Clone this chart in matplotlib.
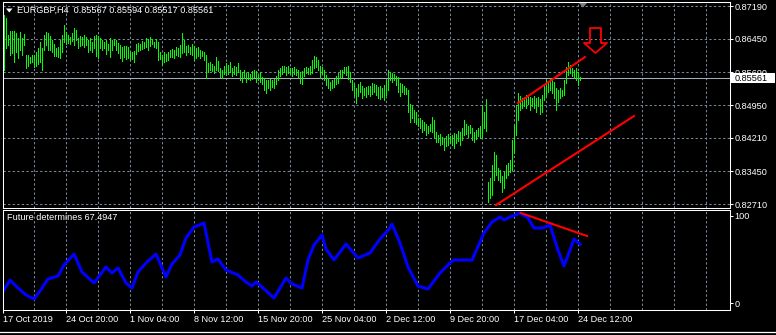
import numpy as np
import matplotlib
matplotlib.use('Agg')
import matplotlib.pyplot as plt
from matplotlib.path import Path
from matplotlib.patches import Rectangle, Polygon
from matplotlib.lines import Line2D
import matplotlib.transforms as mtransforms

plt.rcParams['font.family'] = ['Liberation Sans', 'DejaVu Sans']
FS = 6.6

# ---------------- data ----------------
highs = [
    0.8699, 0.8692, 0.8653, 0.8662, 0.8662, 0.8662, 0.8658, 0.8647, 0.8660, 0.8647,
    0.8656, 0.8608, 0.8608, 0.8604, 0.8608, 0.8608, 0.8615, 0.8624, 0.8638, 0.8624,
    0.8653, 0.8660, 0.8658, 0.8651, 0.8642, 0.8633, 0.8624, 0.8626, 0.8642, 0.8653,
    0.8676, 0.8660, 0.8653, 0.8649, 0.8658, 0.8669, 0.8665, 0.8647, 0.8651, 0.8649,
    0.8653, 0.8649, 0.8642, 0.8647, 0.8638, 0.8651, 0.8653, 0.8651, 0.8647, 0.8642,
    0.8638, 0.8642, 0.8633, 0.8647, 0.8642, 0.8644, 0.8642, 0.8635, 0.8631, 0.8626,
    0.8628, 0.8628, 0.8626, 0.8615, 0.8615, 0.8617, 0.8633, 0.8635, 0.8633, 0.8640,
    0.8638, 0.8647, 0.8644, 0.8649, 0.8644, 0.8638, 0.8644, 0.8638, 0.8615, 0.8608,
    0.8615, 0.8610, 0.8615, 0.8619, 0.8622, 0.8619, 0.8626, 0.8624, 0.8631, 0.8658,
    0.8642, 0.8628, 0.8631, 0.8626, 0.8633, 0.8628, 0.8624, 0.8626, 0.8619, 0.8617,
    0.8615, 0.8608, 0.8590, 0.8592, 0.8588, 0.8583, 0.8604, 0.8594, 0.8579, 0.8574,
    0.8583, 0.8590, 0.8585, 0.8592, 0.8579, 0.8583, 0.8581, 0.8590, 0.8574, 0.8570,
    0.8574, 0.8567, 0.8570, 0.8565, 0.8572, 0.8574, 0.8572, 0.8563, 0.8570, 0.8558,
    0.8556, 0.8551, 0.8551, 0.8554, 0.8551, 0.8554, 0.8561, 0.8574, 0.8579, 0.8583,
    0.8583, 0.8581, 0.8583, 0.8579, 0.8579, 0.8581, 0.8576, 0.8574, 0.8570, 0.8572,
    0.8579, 0.8581, 0.8579, 0.8583, 0.8597, 0.8606, 0.8604, 0.8597, 0.8583, 0.8581,
    0.8574, 0.8563, 0.8556, 0.8547, 0.8551, 0.8554, 0.8561, 0.8567, 0.8574, 0.8574,
    0.8581, 0.8581, 0.8583, 0.8570, 0.8551, 0.8542, 0.8533, 0.8542, 0.8547, 0.8538,
    0.8533, 0.8536, 0.8538, 0.8538, 0.8545, 0.8542, 0.8540, 0.8536, 0.8538, 0.8533,
    0.8540, 0.8551, 0.8574, 0.8570, 0.8567, 0.8565, 0.8561, 0.8558, 0.8545, 0.8542,
    0.8538, 0.8533, 0.8529, 0.8497, 0.8493, 0.8484, 0.8479, 0.8465, 0.8465, 0.8461,
    0.8456, 0.8452, 0.8447, 0.8452, 0.8468, 0.8461, 0.8434, 0.8427, 0.8429, 0.8422,
    0.8420, 0.8425, 0.8429, 0.8425, 0.8427, 0.8431, 0.8429, 0.8436, 0.8434, 0.8443,
    0.8461, 0.8452, 0.8447, 0.8450, 0.8443, 0.8434, 0.8438, 0.8443, 0.8447, 0.8495,
    0.8479, 0.8508, 0.8321, 0.8330, 0.8359, 0.8388, 0.8382, 0.8352, 0.8348, 0.8334,
    0.8343, 0.8359, 0.8364, 0.8370, 0.8416, 0.8450, 0.8495, 0.8522, 0.8515, 0.8511,
    0.8513, 0.8518, 0.8515, 0.8513, 0.8511, 0.8515, 0.8511, 0.8513, 0.8508, 0.8518,
    0.8542, 0.8551, 0.8547, 0.8556, 0.8551, 0.8547, 0.8533, 0.8529, 0.8533, 0.8529,
    0.8551, 0.8581, 0.8592, 0.8585, 0.8579, 0.8574, 0.8579, 0.8570, 0.8559,
]
lows = [
    0.8574, 0.8624, 0.8631, 0.8608, 0.8613, 0.8592, 0.8615, 0.8601, 0.8619, 0.8608,
    0.8631, 0.8579, 0.8583, 0.8590, 0.8592, 0.8581, 0.8583, 0.8588, 0.8592, 0.8574,
    0.8619, 0.8631, 0.8619, 0.8619, 0.8615, 0.8606, 0.8606, 0.8604, 0.8601, 0.8615,
    0.8638, 0.8633, 0.8635, 0.8633, 0.8640, 0.8631, 0.8642, 0.8624, 0.8628, 0.8631,
    0.8626, 0.8631, 0.8615, 0.8619, 0.8615, 0.8624, 0.8606, 0.8601, 0.8624, 0.8619,
    0.8624, 0.8610, 0.8619, 0.8604, 0.8619, 0.8631, 0.8619, 0.8613, 0.8601, 0.8594,
    0.8604, 0.8599, 0.8601, 0.8597, 0.8599, 0.8592, 0.8610, 0.8617, 0.8619, 0.8622,
    0.8624, 0.8626, 0.8619, 0.8628, 0.8633, 0.8626, 0.8624, 0.8597, 0.8599, 0.8585,
    0.8592, 0.8594, 0.8597, 0.8604, 0.8604, 0.8601, 0.8608, 0.8606, 0.8604, 0.8613,
    0.8615, 0.8608, 0.8615, 0.8610, 0.8608, 0.8597, 0.8601, 0.8606, 0.8601, 0.8606,
    0.8597, 0.8556, 0.8570, 0.8574, 0.8572, 0.8567, 0.8574, 0.8572, 0.8558, 0.8556,
    0.8565, 0.8563, 0.8565, 0.8570, 0.8561, 0.8565, 0.8563, 0.8570, 0.8551, 0.8547,
    0.8556, 0.8547, 0.8554, 0.8551, 0.8554, 0.8558, 0.8547, 0.8551, 0.8547, 0.8542,
    0.8529, 0.8522, 0.8533, 0.8529, 0.8536, 0.8533, 0.8542, 0.8551, 0.8561, 0.8565,
    0.8570, 0.8563, 0.8567, 0.8565, 0.8561, 0.8565, 0.8563, 0.8558, 0.8545, 0.8542,
    0.8561, 0.8567, 0.8565, 0.8565, 0.8567, 0.8579, 0.8581, 0.8574, 0.8556, 0.8565,
    0.8551, 0.8540, 0.8533, 0.8529, 0.8533, 0.8536, 0.8542, 0.8545, 0.8556, 0.8558,
    0.8567, 0.8563, 0.8554, 0.8547, 0.8529, 0.8515, 0.8499, 0.8515, 0.8524, 0.8511,
    0.8518, 0.8513, 0.8520, 0.8515, 0.8520, 0.8524, 0.8518, 0.8511, 0.8508, 0.8513,
    0.8506, 0.8518, 0.8529, 0.8551, 0.8547, 0.8551, 0.8540, 0.8524, 0.8515, 0.8524,
    0.8520, 0.8520, 0.8479, 0.8456, 0.8465, 0.8456, 0.8452, 0.8447, 0.8443, 0.8434,
    0.8438, 0.8427, 0.8431, 0.8436, 0.8434, 0.8420, 0.8411, 0.8411, 0.8404, 0.8407,
    0.8393, 0.8402, 0.8404, 0.8409, 0.8404, 0.8398, 0.8409, 0.8413, 0.8404, 0.8416,
    0.8427, 0.8429, 0.8422, 0.8431, 0.8416, 0.8411, 0.8418, 0.8425, 0.8420, 0.8422,
    0.8443, 0.8436, 0.8275, 0.8284, 0.8291, 0.8325, 0.8336, 0.8325, 0.8321, 0.8298,
    0.8307, 0.8330, 0.8336, 0.8343, 0.8348, 0.8386, 0.8427, 0.8461, 0.8484, 0.8488,
    0.8493, 0.8488, 0.8497, 0.8484, 0.8493, 0.8488, 0.8479, 0.8493, 0.8474, 0.8479,
    0.8506, 0.8515, 0.8524, 0.8529, 0.8522, 0.8511, 0.8484, 0.8502, 0.8511, 0.8515,
    0.8518, 0.8545, 0.8563, 0.8567, 0.8561, 0.8556, 0.8551, 0.8540, 0.8552,
]

price_ticks = [0.87190, 0.86450, 0.85690, 0.84950, 0.84210, 0.83450, 0.82710]
price_labels = ['0.87190', '0.86450', '0.85690', '0.84950', '0.84210', '0.83450', '0.82710']
bid_price = 0.85561
bid_label = '0.85561'
title_text = 'EURGBP,H4  0.85567 0.85594 0.85517 0.85561'

ind_idx = [0, 3, 7, 11, 15, 18, 22, 27, 30, 35, 39, 45, 51, 54, 57, 61, 64, 67, 71, 76,
           81, 84, 88, 91, 95, 100, 104, 107, 111, 117, 121, 124, 126, 129, 135, 141, 144,
           149, 152, 155, 159, 161, 165, 171, 177, 183, 188, 193, 194, 198, 202, 207, 212,
           218, 223, 225, 234, 240, 244, 248, 250, 253, 258, 262, 265, 269, 273, 277, 280,
           283, 285, 288]
ind_val = [14.9, 26.4, 17.2, 9.2, 4.6, 13.8, 27.6, 31.0, 43.7, 56.3, 35.6, 23.0, 41.4, 34.5,
           40.2, 23.0, 17.2, 35.6, 46.0, 56.3, 29.9, 44.8, 55.2, 74.7, 87.3, 91.9, 47.1, 50.6,
           37.9, 32.2, 24.1, 19.5, 24.1, 18.4, 5.7, 28.7, 21.8, 17.2, 49.4, 66.6, 78.1, 62.0,
           49.4, 67.8, 51.7, 57.5, 73.5, 86.2, 90.8, 68.9, 41.4, 19.5, 16.1, 34.5, 46.0, 49.4,
           49.4, 80.4, 93.1, 98.8, 95.4, 98.8, 103.4, 97.7, 86.2, 86.2, 89.6, 60.9, 42.5, 60.9,
           73.5, 67.5]
ind_name = 'Future determines 67.4947'
ind_ticks = [0, 100]
ind_tick_labels = ['0', '100']

date_labels = ['17 Oct 2019', '24 Oct 20:00', '1 Nov 04:00', '8 Nov 12:00', '15 Nov 20:00',
               '25 Nov 04:00', '2 Dec 12:00', '9 Dec 20:00', '17 Dec 04:00', '24 Dec 12:00']
date_idx = [-0.5, 31, 63, 95, 127, 159, 191, 223, 255, 287]
grid_idx = [15 + 16 * k for k in range(22)]

upper_trend_x, upper_trend_y = [257, 290.5], [0.84995, 0.86036]
lower_trend_x, lower_trend_y = [246, 315], [0.82687, 0.84701]
ind_trend_x, ind_trend_y = [258.5, 291.5], [103.4, 77.0]
arrow_x, arrow_y = 295.25, 0.8641

# ---------------- figure ----------------
W, H, DPI = 776, 335, 100
fig = plt.figure(figsize=(W / DPI, H / DPI), dpi=DPI, facecolor='black')
px_tr = mtransforms.Affine2D().scale(1 / W, 1 / H) + fig.transFigure


def px_axes(l, t, r, b):
    a = fig.add_axes([l / W, 1 - b / H, (r - l) / W, (b - t) / H])
    a.set_facecolor('black')
    for s in a.spines.values():
        s.set_color('white')
        s.set_linewidth(0.75)
    return a


ax = px_axes(3, 2, 729.5, 207.5)
axi = px_axes(3, 209.5, 729.5, 309.5)

GRID = '#76879a'
DASH = (0, (2.2, 2.2))
XL = (-0.5, 362.75)

for a in (ax, axi):
    a.set_xlim(*XL)
    for g in grid_idx:
        a.axvline(g, color=GRID, lw=0.75, ls=DASH, zorder=0.5)

# main chart
ax.set_ylim(0.82631, 0.87281)
for p in price_ticks:
    ax.axhline(p, color=GRID, lw=0.75, ls=DASH, zorder=0.5)
ax.axhline(bid_price, color='#a4acb5', lw=0.75, zorder=1)
bar_idx = np.arange(len(highs))
ax.vlines(bar_idx, lows, highs, color='#00ff00', lw=0.55, antialiased=False, zorder=2)
ax.plot(upper_trend_x, upper_trend_y, color='#ff0000', lw=1.5, zorder=3)
ax.plot(lower_trend_x, lower_trend_y, color='#ff0000', lw=1.5, zorder=3)

arrow_path = Path([(-5.5, 12.5), (5.5, 12.5), (5.5, -2.5), (11.5, -2.5), (0, -12.5),
                   (-11.5, -2.5), (-5.5, -2.5), (-5.5, 12.5)], closed=True)
ax.plot([arrow_x], [arrow_y], marker=arrow_path, ms=18, mfc='none', mec='#ff0000',
        mew=1.3, ls='none', zorder=4, clip_on=False)

ax.set_xticks([])
ax.yaxis.tick_right()
ax.set_yticks(price_ticks)
ax.set_yticklabels(price_labels)
ax.tick_params(axis='y', colors='white', labelsize=FS, length=2.2, width=0.75, pad=1.6)

# indicator
axi.set_ylim(-7.47, 107.47)
axi.plot(ind_idx, ind_val, color='#0000ff', lw=2.2, solid_joinstyle='round', zorder=2)
axi.plot(ind_trend_x, ind_trend_y, color='#ff0000', lw=1.5, zorder=3)
axi.yaxis.tick_right()
axi.set_yticks(ind_ticks)
axi.set_yticklabels(ind_tick_labels)
axi.set_xticks(date_idx)
axi.set_xticklabels(date_labels, ha='left')
axi.tick_params(axis='y', colors='white', labelsize=FS, length=2.2, width=0.75, pad=1.6)
axi.tick_params(axis='x', colors='white', labelsize=FS, length=2.2, width=0.75, pad=1.8)

# texts
fig.text(17 / W, 1 - 10.5 / H, title_text, color='white', fontsize=FS, ha='left', va='center')
fig.text(7 / W, 1 - 218 / H, ind_name, color='white', fontsize=FS, ha='left', va='center')
fig.add_artist(Polygon([[6, H - 8.5], [12.5, H - 8.5], [9.25, H - 12.5]], closed=True,
                       transform=px_tr, facecolor='white', edgecolor='none'))
fig.add_artist(Polygon([[579, H - 3], [587, H - 3], [583, H - 7.5]], closed=True,
                       transform=px_tr, facecolor='#7f7f7f', edgecolor='none'))
fig.add_artist(Line2D([0, W], [H - 332, H - 332], transform=px_tr, color='white', lw=0.9))

# bid price label box (covers the grid label underneath, as in the terminal)
fig.canvas.draw()
yc = ax.transData.transform((0, bid_price))[1]
fig.add_artist(Rectangle((731, yc - 5), 44, 10, transform=mtransforms.IdentityTransform(),
                         facecolor='white', edgecolor='none', zorder=10))
fig.text(735, yc, bid_label, transform=mtransforms.IdentityTransform(), color='black',
         fontsize=FS, ha='left', va='center', zorder=11)

fig.savefig('out.png', dpi=DPI, facecolor='black')
